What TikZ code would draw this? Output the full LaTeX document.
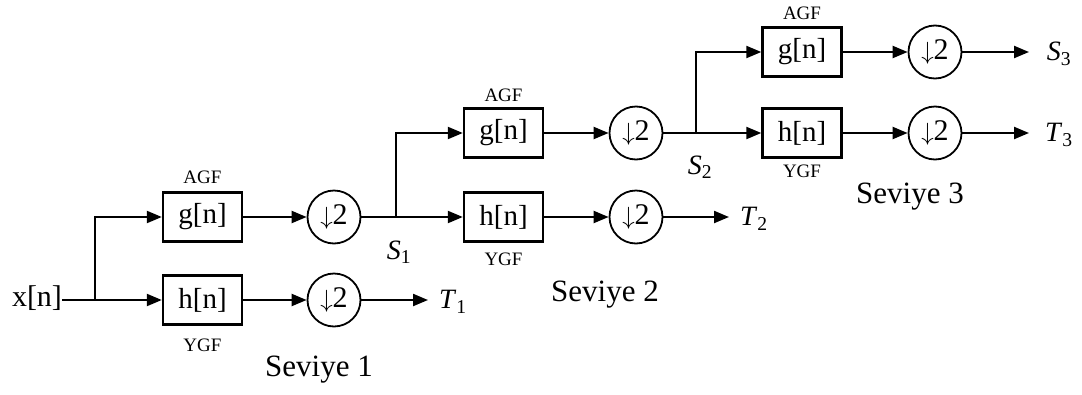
\documentclass[tikz,border=0pt]{standalone}
\usepackage{fontspec}
\setmainfont{Liberation Serif}
\usetikzlibrary{arrows.meta}
\begin{document}
\begin{tikzpicture}[x=1pt,y=-1pt,
  filt/.style={draw,line width=2.4pt,minimum width=79pt,minimum height=49pt,inner sep=0pt,
    font=\fontsize{29}{34}\selectfont},
  dec/.style={draw,circle,line width=1.8pt,minimum size=53pt,inner sep=0pt,
    font=\fontsize{30}{34}\selectfont},
  wire/.style={line width=2.2pt},
  arr/.style={wire,-{Triangle[length=15pt,width=12pt]}},
  tag/.style={font=\fontsize{19}{22}\selectfont,inner sep=0pt},
  sig/.style={font=\fontsize{28}{32}\selectfont,inner sep=0pt},
  lvl/.style={font=\fontsize{31}{36}\selectfont,inner sep=0pt}]
\useasboundingbox (0,0) rectangle (1082,394);
\newcommand{\dn}{$\downarrow$2}

% input
\node[font=\fontsize{30}{34}\selectfont,inner sep=0pt] (xn) at (37,298) {x[n]};

% level 1
\node[filt] (g1) at (202.5,217) {g[n]};
\node[filt] (h1) at (202.5,300) {h[n]};
\node[dec] (d1) at (334,217) {\dn};
\node[dec] (d2) at (334,300) {\dn};
\node[tag] (a1) at (202.5,177) {AGF};
\node[tag] (y1) at (202.5,345) {YGF};
\coordinate (b1) at (95,300);
\coordinate (s1b) at (396,217);
\coordinate (t1e) at (428,300);
\node[sig] (t1) at (453,302) {\textit{T}\textsubscript{1}};
\node[sig] (s1) at (399,252) {\textit{S}\textsubscript{1}};
\node[lvl] (l1) at (319,370) {Seviye 1};

% level 2
\node[filt] (g2) at (503.5,133) {g[n]};
\node[filt] (h2) at (503.5,217) {h[n]};
\node[dec] (d3) at (636,133) {\dn};
\node[dec] (d4) at (636,217) {\dn};
\node[tag] (a2) at (503.5,95) {AGF};
\node[tag] (y2) at (503.5,259) {YGF};
\coordinate (s2b) at (696,133);
\coordinate (t2e) at (729,217);
\node[sig] (t2) at (754,219) {\textit{T}\textsubscript{2}};
\node[sig] (s2) at (700,167) {\textit{S}\textsubscript{2}};
\node[lvl] (l2) at (605,295) {Seviye 2};

% level 3
\node[filt] (g3) at (802,52) {g[n]};
\node[filt] (h3) at (802,133) {h[n]};
\node[dec] (d5) at (935,52) {\dn};
\node[dec] (d6) at (935,133) {\dn};
\node[tag] (a3) at (802,13) {AGF};
\node[tag] (y3) at (802,171) {YGF};
\coordinate (s3e) at (1029,52);
\coordinate (t3e) at (1029,133);
\node[sig] (s3) at (1059,54) {\textit{S}\textsubscript{3}};
\node[sig] (t3) at (1059,135) {\textit{T}\textsubscript{3}};
\node[lvl] (l3) at (910,197) {Seviye 3};

% connectors, level 1
\draw[wire] (xn.east |- b1) -- (b1);
\draw[arr] (b1) -- (h1);
\draw[arr] (b1) |- (g1);
\draw[arr] (g1) -- (d1);
\draw[arr] (h1) -- (d2);
\draw[arr] (d2) -- (t1e);
\draw[wire] (d1) -- (s1b);

% connectors, level 2
\draw[arr] (s1b) -- (h2);
\draw[arr] (s1b) |- (g2);
\draw[arr] (g2) -- (d3);
\draw[arr] (h2) -- (d4);
\draw[arr] (d4) -- (t2e);
\draw[wire] (d3) -- (s2b);

% connectors, level 3
\draw[arr] (s2b) -- (h3);
\draw[arr] (s2b) |- (g3);
\draw[arr] (g3) -- (d5);
\draw[arr] (h3) -- (d6);
\draw[arr] (d5) -- (s3e);
\draw[arr] (d6) -- (t3e);
\end{tikzpicture}
\end{document}
